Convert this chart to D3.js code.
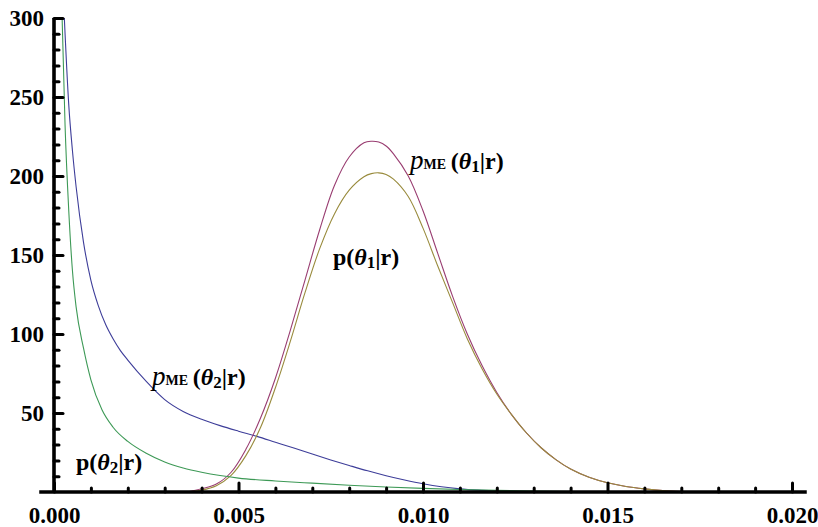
<!DOCTYPE html>
<html>
<head>
<meta charset="utf-8">
<script src="https://cdn.jsdelivr.net/npm/d3@7"></script>
<style>
  html, body { margin: 0; padding: 0; background: #fff; }
  svg { display: block; }
</style>
</head>
<body>
<svg id="chart" width="818" height="527"></svg>
<script>
// ---------------- data ----------------
const xTicksMajor = [0, 0.005, 0.010, 0.015, 0.020];
const xTicksMinor = [0.001,0.002,0.003,0.004,0.006,0.007,0.008,0.009,0.011,0.012,0.013,0.014,0.016,0.017,0.018,0.019];
const yTicksMajor = [50, 100, 150, 200, 250, 300];
const yTicksMinor = [10,20,30,40,60,70,80,90,110,120,130,140,160,170,180,190,210,220,230,240,260,270,280,290];

// p_ME(theta2|r)  (blue)
const xPme2 = [0.00028,0.0004,0.0005,0.0006,0.0008,0.0010,0.0012,0.0014,0.0016,0.0018,0.0020,0.0025,0.0030,0.0035,0.0040,0.0045,0.0050,0.0055,0.0060,0.0065,0.0070,0.0075,0.0080,0.0085,0.0090,0.0095,0.0100,0.0105,0.0110,0.0115,0.0120,0.0125,0.0130];
const yPme2 = [300,245,216,193,158,134,118,106,97,89.5,83.5,70,58.5,51,46,42,38.5,35.2,31.5,27.8,24,20.3,16.8,13.4,10.3,7.6,5.2,3.3,2.0,1.2,0.7,0.3,0.1];

// p(theta2|r)  (green)
const xP2 = [0.00022,0.0003,0.0004,0.0005,0.0006,0.0008,0.0010,0.0013,0.0016,0.0020,0.0025,0.0030,0.0035,0.0040,0.0045,0.0050,0.0060,0.0070,0.0080,0.0090,0.0100,0.0110,0.0120,0.0130,0.0140,0.0150];
const yP2 = [300,232,178,140,117,91,71,52,41,32,24.5,19,15.2,12.5,10.4,8.8,7,5.6,4.3,3.2,2.3,1.6,1.0,0.6,0.3,0.1];

// theta1 grid
const xTheta1 = [0.0036,0.0040,0.0044,0.0048,0.0052,0.0056,0.0060,0.0064,0.0068,0.0072,0.0076,0.0080,0.0084,0.0086,0.0088,0.0090,0.0092,0.0096,0.0100,0.0104,0.0108,0.0112,0.0116,0.0120,0.0124,0.0128,0.0132,0.0136,0.0140,0.0145,0.0150,0.0155,0.0160,0.0165,0.0170];
// p_ME(theta1|r)  (purple)
const yPme1 = [0,2,5,12.5,27,47,72,102,134,166,194,212,221,222,221.5,219,214,200,178,151,124,100,80,63,49,37.5,28,20.5,14.5,9.3,5.8,3.5,2.0,0.9,0.3];
// p(theta1|r)  (olive)
const yP1  = [0,1.2,4,10.5,23,41,66,95,126,154,176,191,199.5,201.5,202,201,198,187,167,143,120,97,78,62,49,37.5,28,20.5,14.5,9.3,5.8,3.5,2.0,0.9,0.3];

const series = [
  { name: "pme2", xs: xPme2,  ys: yPme2, color: "rgb(61,61,153)",  curve: d3.curveMonotoneX },
  { name: "pme1", xs: xTheta1, ys: yPme1, color: "rgb(153,61,113)", curve: d3.curveCatmullRom.alpha(0.5) },
  { name: "p1",   xs: xTheta1, ys: yP1,   color: "rgb(153,139,61)", curve: d3.curveCatmullRom.alpha(0.5) },
  { name: "p2",   xs: xP2,    ys: yP2,   color: "rgb(61,153,86)",  curve: d3.curveMonotoneX }
];

const FONT = '"Liberation Serif", "DejaVu Serif", serif';

// ---------------- chart ----------------
const svg = d3.select("#chart");
const x = d3.scaleLinear().domain([0, 0.02]).range([54, 792]);
const y = d3.scaleLinear().domain([0, 300]).range([492, 18]);

svg.append("defs").append("clipPath").attr("id", "plotclip")
  .append("rect").attr("x", x(0)).attr("y", y(300))
  .attr("width", x(0.0204) - x(0)).attr("height", y(0) - y(300));

svg.append("g").attr("clip-path", "url(#plotclip)")
  .selectAll("path")
  .data(series)
  .join("path")
  .attr("fill", "none")
  .attr("stroke", d => d.color)
  .attr("stroke-width", 1.1)
  .attr("d", d => d3.line().x(p => x(p[0])).y(p => y(p[1])).curve(d.curve)(d.xs.map((v, i) => [v, d.ys[i]])));

// axes
const axisG = svg.append("g");

axisG.append("line")
  .attr("x1", x(-0.0004)).attr("x2", x(0.0204))
  .attr("y1", y(0)).attr("y2", y(0))
  .attr("stroke", "#000").attr("stroke-width", 3.6);
axisG.append("line")
  .attr("x1", x(0)).attr("x2", x(0))
  .attr("y1", y(0)).attr("y2", y(300))
  .attr("stroke", "#000").attr("stroke-width", 3.6);

function styleAxis(g) {
  g.attr("font-family", FONT).attr("font-size", 23).attr("font-weight", "bold");
  g.select(".domain").remove();
  g.selectAll(".tick line").attr("stroke", "#000").attr("stroke-width", 3).attr("stroke-linecap", "round");
  g.selectAll("text").attr("fill", "#000");
}

axisG.append("g")
  .attr("transform", `translate(0,${y(0)})`)
  .call(d3.axisBottom(x).tickValues(xTicksMinor).tickSizeInner(-4).tickSizeOuter(0).tickFormat(""))
  .call(styleAxis);
axisG.append("g")
  .attr("transform", `translate(0,${y(0)})`)
  .call(d3.axisBottom(x).tickValues(xTicksMajor).tickSizeInner(-9).tickSizeOuter(0).tickPadding(15).tickFormat(d3.format(".3f")))
  .call(styleAxis);

axisG.append("g")
  .attr("transform", `translate(${x(0)},0)`)
  .call(d3.axisLeft(y).tickValues(yTicksMinor).tickSizeInner(-5).tickSizeOuter(0).tickFormat(""))
  .call(styleAxis);
axisG.append("g")
  .attr("transform", `translate(${x(0)},0)`)
  .call(d3.axisLeft(y).tickValues(yTicksMajor).tickSizeInner(-9).tickSizeOuter(0).tickPadding(10).tickFormat(d3.format("d")))
  .call(styleAxis);

// ---------------- labels ----------------
function label(px, py, me, idx) {
  const t = svg.append("text").attr("x", px).attr("y", py)
    .attr("font-family", FONT)
    .attr("font-size", 24).attr("font-weight", "bold").attr("fill", "#000");
  if (me) {
    t.append("tspan").text("p").attr("font-style", "italic").attr("font-weight", "normal").attr("font-size", 27);
    t.append("tspan").text("ME").attr("font-size", 14);
    t.append("tspan").text("\u2009(");
  } else {
    t.append("tspan").text("p(");
  }
  t.append("tspan").text("\u03B8").attr("font-style", "italic");
  t.append("tspan").text(idx).attr("font-size", 17).attr("dy", 3);
  t.append("tspan").text("|r)").attr("dy", -3);
}
label(410, 169, true, "1");
label(333, 265, false, "1");
label(152, 385, true, "2");
label(76, 470, false, "2");
</script>
</body>
</html>
